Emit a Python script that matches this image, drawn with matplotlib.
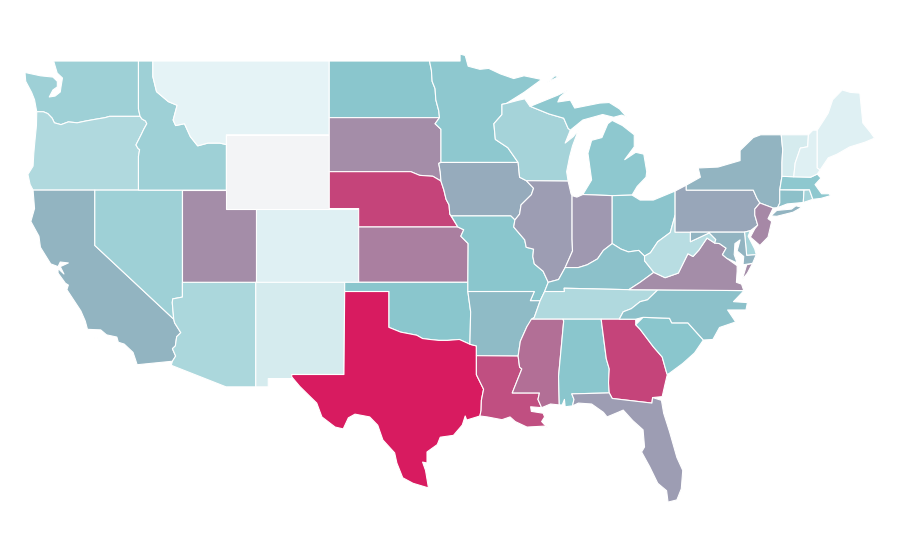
from matplotlib import pyplot as plt
from matplotlib.colors import LinearSegmentedColormap, Normalize

STATES = ['WA', 'OR', 'CA', 'NV', 'ID', 'MT', 'WY', 'UT', 'AZ', 'CO', 'NM', 'ND', 'SD', 'NE', 'KS', 'OK', 'TX',
          'MN', 'IA', 'MO', 'AR', 'LA', 'WI', 'IL', 'MI', 'IN', 'OH', 'KY', 'TN', 'MS', 'AL', 'GA', 'FL', 'SC',
          'NC', 'VA', 'WV', 'PA', 'NY', 'NJ', 'DE', 'MD', 'CT', 'RI', 'MA', 'VT', 'NH', 'ME']
VALUES = [20, 16, 33, 20, 20, 3, 0, 50, 17, 4.5, 7, 25, 50, 82, 56, 25, 100,
          24, 37, 25, 30, 77, 18.5, 43, 24, 45, 26, 27, 16, 63, 25, 82, 43, 25,
          27, 50, 14, 39, 33, 52, 18.5, 33, 27.5, 18.5, 24, 7, 4.5, 4.5]

# state outlines, lon/lat
OUTLINES = {
    'WA': [[(-117.03, 49), (-122.8, 49), (-122.56, 48.35), (-122.2, 48.08), (-122.3, 47.6), (-122.35, 47.32),
            (-122.7, 47.1), (-123.1, 47.05), (-122.85, 47.43), (-122.55, 47.6), (-122.55, 47.9), (-122.85, 48.13),
            (-123.7, 48.2), (-124.75, 48.38), (-124.7, 47.9), (-124.3, 47.3), (-124.1, 46.9),
            (-123.95, 46.25), (-123.5, 46.25), (-123.2, 46.15), (-122.9, 45.9), (-122.75, 45.65), (-122.3, 45.55),
            (-121.8, 45.7), (-121.2, 45.65), (-120.6, 45.75), (-119.9, 45.85), (-119.3, 45.93), (-119, 46),
            (-116.92, 46), (-117.03, 46.4)]],
    'OR': [[(-123.95, 46.25), (-123.5, 46.25), (-123.2, 46.15), (-122.9, 45.9), (-122.75, 45.65), (-122.3, 45.55),
            (-121.8, 45.7), (-121.2, 45.65), (-120.6, 45.75), (-119.9, 45.85), (-119.3, 45.93), (-119, 46),
            (-116.92, 46), (-116.78, 45.85), (-116.55, 45.75), (-116.46, 45.6), (-116.67, 45.3), (-116.85, 45),
            (-117.2, 44.45), (-117.05, 44.25), (-116.95, 44.2), (-117.03, 43.83), (-117.03, 42), (-124.2, 42),
            (-124.4, 42.3), (-124.55, 42.85), (-124.2, 43.3), (-124.15, 44), (-124.07, 44.7), (-123.97, 45.5)]],
    'CA': [[(-124.2, 42), (-120, 42), (-120, 39), (-114.63, 35), (-114.57, 34.8), (-114.15, 34.27), (-114.43, 34.05),
            (-114.52, 33.55), (-114.72, 33.4), (-114.5, 33), (-114.72, 32.72), (-117.12, 32.53), (-117.25, 32.85),
            (-117.4, 33.2), (-118, 33.65), (-118.4, 33.75), (-118.5, 34.03), (-119.2, 34.15), (-119.6, 34.42),
            (-120.5, 34.45), (-120.65, 34.9), (-120.95, 35.45), (-121.9, 36.6), (-121.8, 36.85), (-122, 36.95),
            (-122.5, 37.5), (-122.5, 37.75), (-122.1, 37.45), (-122.35, 37.85), (-121.8, 38.05), (-122.35, 38.1),
            (-122.5, 37.85), (-123, 38), (-123.7, 38.9), (-123.8, 39.5), (-124.35, 40.3), (-124.1, 41)],
           [(-120.05, 33.98), (-119.85, 33.98), (-119.85, 34.05), (-120.05, 34.05)]],
    'NV': [[(-120, 42), (-114.04, 42), (-114.04, 36.2), (-114.7, 36.1), (-114.73, 35.9), (-114.63, 35), (-120, 39)]],
    'ID': [[(-117.03, 49), (-116.05, 49), (-116.05, 48.15), (-115.8, 47.34), (-115, 46.8), (-114.4, 46.6),
            (-114.67, 45.8), (-114.5, 45.5), (-113.9, 45.6), (-113.5, 44.9), (-113, 44.4), (-112.3, 44.55),
            (-111.5, 44.55), (-111.05, 44.47), (-111.05, 42), (-117.03, 42), (-117.03, 43.83), (-116.95, 44.2),
            (-117.05, 44.25), (-117.2, 44.45), (-116.85, 45), (-116.67, 45.3), (-116.46, 45.6), (-116.55, 45.75),
            (-116.78, 45.85), (-116.92, 46), (-117.03, 46.4)]],
    'MT': [[(-116.05, 49), (-104.05, 49), (-104.05, 45), (-111.05, 45), (-111.05, 44.47), (-111.5, 44.55),
            (-112.3, 44.55), (-113, 44.4), (-113.5, 44.9), (-113.9, 45.6), (-114.5, 45.5), (-114.67, 45.8),
            (-114.4, 46.6), (-115, 46.8), (-115.8, 47.34), (-116.05, 48.15)]],
    'WY': [[(-111.05, 45), (-104.05, 45), (-104.05, 41), (-111.05, 41)]],
    'UT': [[(-114.04, 42), (-111.05, 42), (-111.05, 41), (-109.05, 41), (-109.05, 37), (-114.04, 37)]],
    'AZ': [[(-114.04, 37), (-109.05, 37), (-109.05, 31.33), (-111.07, 31.33), (-114.8, 32.5), (-114.72, 32.72),
            (-114.5, 33), (-114.72, 33.4), (-114.52, 33.55), (-114.43, 34.05), (-114.15, 34.27), (-114.57, 34.8),
            (-114.63, 35), (-114.73, 35.9), (-114.7, 36.1), (-114.04, 36.2)]],
    'CO': [[(-109.05, 41), (-102.05, 41), (-102.05, 37), (-109.05, 37)]],
    'NM': [[(-109.05, 37), (-103, 37), (-103.05, 32), (-106.6, 32), (-106.53, 31.78), (-108.2, 31.78), (-108.2, 31.33),
            (-109.05, 31.33)]],
    'ND': [[(-104.05, 49), (-97.23, 49), (-97.1, 48.5), (-97.05, 47.9), (-96.85, 47.5), (-96.8, 46.9), (-96.6, 46.3),
            (-96.55, 45.93), (-104.05, 45.93)]],
    'SD': [[(-104.05, 45.93), (-96.55, 45.93), (-96.85, 45.6), (-96.45, 45.3), (-96.45, 43.5), (-96.6, 43.45),
            (-96.5, 43), (-96.45, 42.49), (-97, 42.75), (-97.9, 42.8), (-98.5, 43), (-104.05, 43)]],
    'NE': [[(-104.05, 43), (-98.5, 43), (-97.9, 42.8), (-97, 42.75), (-96.45, 42.49), (-96.25, 42), (-96.1, 41.5),
            (-95.9, 41.2), (-95.85, 40.7), (-95.3, 40), (-102.05, 40), (-102.05, 41), (-104.05, 41)]],
    'KS': [[(-102.05, 40), (-95.3, 40), (-94.9, 39.85), (-95.1, 39.5), (-94.6, 39.1), (-94.62, 37), (-102.05, 37)]],
    'OK': [[(-103, 37), (-94.62, 37), (-94.62, 36.5), (-94.43, 35.4), (-94.48, 33.64), (-95.2, 33.9), (-96, 33.85),
            (-96.6, 33.85), (-97.2, 33.9), (-97.7, 33.95), (-98.1, 34.13), (-99.2, 34.3), (-100, 34.56), (-100, 36.5),
            (-103, 36.5)]],
    'TX': [[(-103, 36.5), (-100, 36.5), (-100, 34.56), (-99.2, 34.3), (-98.1, 34.13), (-97.7, 33.95), (-97.2, 33.9),
            (-96.6, 33.85), (-96, 33.85), (-95.2, 33.9), (-94.48, 33.64), (-94.04, 33.55), (-94.04, 31.99),
            (-93.55, 31.2), (-93.7, 30.6), (-93.72, 30.05), (-93.8, 29.75), (-94.7, 29.53), (-94.8, 29.75),
            (-95, 29.26), (-95.6, 28.7), (-96.5, 28.6), (-96.7, 28.2), (-97.4, 27.8), (-97.4, 27.2), (-97.7, 27.25),
            (-97.5, 26.8), (-97.3, 25.85), (-98.35, 26.1), (-99.05, 26.4), (-99.45, 27.2), (-99.6, 27.75),
            (-100.4, 28.45), (-100.75, 29.25), (-101.3, 29.7), (-102.3, 29.85), (-102.75, 29.65), (-103.1, 29.05),
            (-103.65, 29.15), (-104.55, 29.7), (-104.9, 30.45), (-105.35, 30.8), (-106.05, 31.35), (-106.6, 31.87),
            (-106.6, 32), (-103.05, 32)]],
    'MN': [[(-97.23, 49), (-95.15, 49), (-95.15, 49.38), (-94.8, 49.3), (-94.6, 48.72), (-93.8, 48.55), (-93.2, 48.6),
            (-92.4, 48.3), (-91.5, 48.05), (-90.8, 48.2), (-89.6, 48), (-90.8, 47.3), (-92, 46.7), (-92.3, 46.65),
            (-92.3, 46.1), (-92.85, 45.6), (-92.75, 44.75), (-91.9, 44.3), (-91.2, 43.5), (-96.45, 43.5),
            (-96.45, 45.3), (-96.85, 45.6), (-96.55, 45.93), (-96.6, 46.3), (-96.8, 46.9), (-96.85, 47.5),
            (-97.05, 47.9), (-97.1, 48.5)]],
    'IA': [[(-96.45, 43.5), (-91.2, 43.5), (-91.1, 42.7), (-90.64, 42.51), (-90.15, 42.1), (-90.3, 41.75), (-91, 41.2),
            (-91.1, 40.7), (-91.42, 40.38), (-91.7, 40.6), (-95.75, 40.6), (-95.85, 40.7), (-95.9, 41.2), (-96.1, 41.5),
            (-96.25, 42), (-96.45, 42.49), (-96.5, 43), (-96.6, 43.45)]],
    'MO': [[(-95.75, 40.6), (-91.7, 40.6), (-91.42, 40.38), (-91.5, 40), (-90.75, 39.3), (-90.65, 38.9), (-90.15, 38.8),
            (-90.2, 38.4), (-90.1, 38), (-89.5, 37.6), (-89.15, 37), (-89.4, 36.5), (-89.7, 36), (-90.37, 36),
            (-90.1, 36.5), (-94.62, 36.5), (-94.62, 37), (-94.6, 39.1), (-95.1, 39.5), (-94.9, 39.85), (-95.3, 40)]],
    'AR': [[(-94.62, 36.5), (-90.1, 36.5), (-90.37, 36), (-89.7, 36), (-90.1, 35.1), (-90.6, 34.6), (-91.05, 33.8),
            (-91.2, 33), (-94.04, 33.02), (-94.04, 33.55), (-94.48, 33.64), (-94.43, 35.4)]],
    'LA': [[(-94.04, 33.02), (-91.2, 33), (-91.1, 32.4), (-90.95, 32.3), (-91.6, 31), (-89.75, 31), (-89.85, 30.65),
            (-89.6, 30.2), (-90.35, 30.25), (-90.3, 30), (-89.5, 29.9), (-89.4, 29.7), (-89.6, 29.45),
            (-89.2, 29.1), (-89.45, 29.2), (-90.6, 29.15), (-91.4, 29.45), (-91.75, 29.7), (-92.3, 29.55),
            (-93.3, 29.7), (-93.8, 29.75), (-93.72, 30.05), (-93.7, 30.6), (-93.55, 31.2), (-94.04, 31.99)]],
    'WI': [[(-92.3, 46.65), (-92, 46.7), (-91.2, 46.87), (-90.75, 46.95), (-90.4, 46.55), (-89.1, 46.13), (-88.1, 45.9),
            (-87.8, 45.35), (-87.65, 45.25), (-88, 44.55), (-87.45, 44.9), (-87.1, 45.25), (-87.5, 44.4), (-87.7, 43.8),
            (-87.9, 43), (-87.8, 42.49), (-90.64, 42.51), (-91.1, 42.7), (-91.2, 43.5), (-91.9, 44.3), (-92.75, 44.75),
            (-92.85, 45.6), (-92.3, 46.1)]],
    'IL': [[(-90.64, 42.51), (-87.8, 42.49), (-87.6, 41.8), (-87.53, 41.7), (-87.53, 39.35), (-87.5, 38.7), (-88, 37.8),
            (-88.45, 37.15), (-89.15, 37), (-89.5, 37.6), (-90.1, 38), (-90.2, 38.4), (-90.15, 38.8), (-90.65, 38.9),
            (-90.75, 39.3), (-91.5, 40), (-91.42, 40.38), (-91.1, 40.7), (-91, 41.2), (-90.3, 41.75), (-90.15, 42.1)]],
    'MI': [[(-86.8, 41.76), (-84.8, 41.7), (-83.45, 41.73), (-83.1, 42.2), (-82.5, 42.7), (-82.45, 43), (-82.65, 43.95),
            (-83.2, 44.05), (-83.95, 43.65), (-83.3, 44.35), (-83.3, 45), (-84.1, 45.5), (-84.8, 45.78), (-85.1, 45.6),
            (-85.5, 44.85), (-86.2, 44.7), (-86.45, 44), (-86.2, 42.55)],
           [(-90.4, 46.55), (-89.1, 46.13), (-88.1, 45.9), (-87.8, 45.35), (-87.65, 45.25), (-86.8, 45.8), (-85.45, 46.1),
            (-84.7, 45.95), (-84.15, 46.07), (-83.8, 45.95), (-84.3, 46.4), (-85, 46.75), (-85.65, 46.72), (-87.35, 46.45),
            (-87.65, 46.88), (-88.5, 46.78), (-88.35, 47.05), (-87.8, 47.43), (-88.5, 47.15), (-90.2, 46.6)],
           [(-89.2, 47.85), (-88.45, 48.15), (-88.7, 48.2)]],
    'IN': [[(-87.53, 41.7), (-87.2, 41.62), (-86.8, 41.76), (-84.8, 41.7), (-84.8, 39.1), (-85.4, 38.73), (-85.8, 38.27),
            (-86.5, 37.95), (-87.1, 37.8), (-88, 37.8), (-87.5, 38.7), (-87.53, 39.35)]],
    'OH': [[(-84.8, 41.7), (-83.45, 41.73), (-82.9, 41.46), (-82, 41.46), (-80.52, 41.95), (-80.52, 40.64), (-80.85, 39.7),
            (-81.7, 39.2), (-82.2, 38.6), (-82.6, 38.42), (-83, 38.73), (-83.7, 38.65), (-84.2, 38.8), (-84.8, 39.1)]],
    'KY': [[(-89.4, 36.5), (-88.05, 36.5), (-88.07, 36.68), (-83.67, 36.6), (-82.9, 37), (-81.97, 37.54), (-82.6, 38.17),
            (-82.6, 38.42), (-83, 38.73), (-83.7, 38.65), (-84.2, 38.8), (-84.8, 39.1), (-85.4, 38.73), (-85.8, 38.27),
            (-86.5, 37.95), (-87.1, 37.8), (-88, 37.8), (-88.45, 37.15), (-89.15, 37)]],
    'TN': [[(-90.3, 35), (-88.15, 35), (-85.55, 35), (-84.32, 35), (-84.05, 35.4), (-83.5, 35.57), (-82.9, 35.95),
            (-82.4, 36.05), (-81.7, 36.59), (-83.67, 36.6), (-88.07, 36.68), (-88.05, 36.5), (-89.4, 36.5), (-89.7, 36),
            (-90.1, 35.1)]],
    'MS': [[(-91.6, 31), (-90.95, 32.3), (-91.1, 32.4), (-91.2, 33), (-91.05, 33.8), (-90.6, 34.6), (-90.3, 35),
            (-88.15, 35), (-88.1, 34.9), (-88.45, 31.9), (-88.4, 30.35), (-89, 30.4), (-89.6, 30.2), (-89.85, 30.65),
            (-89.75, 31)]],
    'AL': [[(-88.15, 35), (-85.55, 35), (-85.2, 32.85), (-85, 32.3), (-85.05, 31.55), (-85, 31), (-87.55, 30.95), (-87.4, 30.65),
            (-87.5, 30.3), (-88, 30.25), (-88.05, 30.65), (-88.2, 30.35), (-88.4, 30.35), (-88.45, 31.9), (-88.1, 34.9)]],
    'GA': [[(-85.55, 35), (-83.2, 35), (-83.2, 34.7), (-82.9, 34.45), (-82, 33.5), (-81.4, 32.95), (-81.1, 32.1),
            (-81.05, 32), (-81.2, 31.5), (-81.4, 30.8), (-82.05, 30.75), (-82.1, 30.45), (-84.8, 30.7), (-85, 31),
            (-85.05, 31.55), (-85, 32.3), (-85.2, 32.85)]],
    'FL': [[(-87.55, 30.95), (-85, 31), (-84.8, 30.7), (-82.1, 30.45), (-82.05, 30.75), (-81.45, 30.6), (-81.3, 29.9),
            (-80.9, 28.9), (-80.4, 27.5), (-80, 26.8), (-80.1, 25.8), (-80.4, 25.2), (-81, 25.08), (-81.1, 25.7),
            (-81.7, 26.1), (-82.25, 27), (-82.8, 27.8), (-82.6, 28.07), (-82.7, 29), (-83.4, 29.5), (-84.05, 30.07),
            (-84.4, 29.95), (-85.15, 29.7), (-85.4, 29.95), (-86.2, 30.4), (-87.1, 30.45), (-87.5, 30.3), (-87.4, 30.65)]],
    'SC': [[(-83.2, 34.7), (-82.7, 35.1), (-80.9, 35.05), (-80.75, 34.8), (-79.65, 34.8), (-78.6, 33.87),
            (-79.2, 33.17), (-80, 32.6), (-80.9, 32.07), (-81.05, 32), (-81.1, 32.1), (-81.4, 32.95), (-82, 33.5),
            (-82.9, 34.45)]],
    'NC': [[(-84.32, 35), (-84.05, 35.4), (-83.5, 35.57), (-82.9, 35.95), (-82.4, 36.05), (-81.7, 36.59), (-75.85, 36.55),
            (-75.95, 36.45), (-76.55, 35.95), (-75.6, 35.9), (-75.7, 35.5), (-76.95, 35.5), (-76.4, 34.85), (-77.5, 34.55),
            (-77.95, 33.9), (-78.6, 33.87), (-79.65, 34.8), (-80.75, 34.8), (-80.9, 35.05), (-82.7, 35.1), (-83.2, 35)]],
    'VA': [[(-83.67, 36.6), (-81.7, 36.59), (-75.85, 36.55), (-76, 36.9), (-76.35, 37), (-76.3, 37.6), (-76.3, 37.9),
            (-77, 38.3), (-77.3, 38.5), (-77.05, 38.85), (-77.5, 39.1), (-77.83, 39.13), (-78.35, 39.4), (-78.9, 38.75),
            (-79.3, 38.4), (-79.65, 38.55), (-80.3, 37.5), (-81.2, 37.25), (-81.97, 37.54), (-82.9, 37)],
           [(-75.95, 37.15), (-75.65, 37.95), (-75.25, 38.03), (-75.6, 37.5)]],
    'WV': [[(-82.6, 38.17), (-81.97, 37.54), (-81.2, 37.25), (-80.3, 37.5), (-79.65, 38.55), (-79.3, 38.4), (-78.9, 38.75),
            (-78.35, 39.4), (-77.83, 39.13), (-77.75, 39.32), (-78.2, 39.68), (-79.48, 39.2), (-79.48, 39.72),
            (-80.52, 39.72), (-80.52, 40.64), (-80.85, 39.7), (-81.7, 39.2), (-82.2, 38.6), (-82.6, 38.42)]],
    'PA': [[(-80.52, 41.95), (-79.76, 42.27), (-79.76, 42), (-75.2, 42), (-74.95, 41.55), (-74.75, 41.3), (-75.1, 40.97),
            (-75.1, 40.65), (-74.9, 40.1), (-75.4, 39.8), (-75.8, 39.72), (-80.52, 39.72)]],
    'NY': [[(-79.76, 42.27), (-78.8, 42.7), (-78.95, 43.2), (-77.6, 43.25), (-76.1, 43.6), (-76.1, 44.15), (-75.2, 44.85),
            (-74.7, 45), (-73.3, 45), (-73.2, 44.2), (-73.25, 43.5), (-73.25, 42.75), (-73.4, 42.02), (-73.4, 41.3),
            (-73.55, 41.05), (-73.85, 41.03), (-74.75, 41.3), (-74.95, 41.55), (-75.2, 42), (-79.76, 42)],
           [(-74, 40.6), (-73.6, 40.9), (-72.6, 40.97), (-72.3, 41.15), (-71.9, 41.07), (-72.5, 40.8), (-73.6, 40.58)]],
    'NJ': [[(-74.75, 41.3), (-73.85, 41.03), (-74.2, 40.45), (-73.95, 40.3), (-74.2, 39.45), (-74.75, 39), (-75.4, 39.45),
            (-75.1, 39.9), (-74.9, 40.1), (-75.1, 40.65), (-75.1, 40.97)]],
    'DE': [[(-75.8, 39.72), (-75.4, 39.8), (-75.55, 39.5), (-75.1, 38.8), (-75, 38.5), (-75.65, 38.46)]],
    'MD': [[(-79.48, 39.72), (-75.8, 39.72), (-75.65, 38.46), (-75, 38.5), (-75.25, 38.03), (-75.9, 37.95),
            (-75.85, 38.4), (-76.3, 38.7), (-76.1, 39.3), (-76.45, 39.1), (-76.5, 38.5), (-76.3, 38.05), (-77, 38.3),
            (-77.3, 38.5), (-77.05, 38.85), (-77.5, 39.1), (-77.83, 39.13), (-77.75, 39.32), (-78.2, 39.68),
            (-79.48, 39.2)]],
    'CT': [[(-73.4, 42.02), (-71.75, 42), (-71.8, 41.33), (-72.9, 41.25), (-73.55, 41.05), (-73.4, 41.3)]],
    'RI': [[(-71.75, 42), (-71.38, 42.02), (-71.15, 41.5), (-71.8, 41.33)]],
    'MA': [[(-73.4, 42.02), (-73.25, 42.75), (-71.3, 42.7), (-70.85, 42.87), (-70.6, 42.65), (-71, 42.3), (-70.55, 41.8),
            (-70.05, 41.8), (-70.2, 42.05), (-69.95, 41.7), (-70.6, 41.55), (-71.15, 41.5), (-71.38, 42.02)]],
    'VT': [[(-73.3, 45), (-71.45, 45), (-71.5, 44.35), (-72, 44.28), (-72.35, 43.47), (-72.45, 42.72), (-73.25, 42.75),
            (-73.25, 43.5), (-73.2, 44.2)]],
    'NH': [[(-71.45, 45), (-71.15, 45.25), (-70.85, 45.25), (-70.85, 43.2), (-70.65, 43.1), (-70.85, 42.87), (-71.3, 42.7),
            (-72.45, 42.72), (-72.35, 43.47), (-72, 44.28), (-71.5, 44.35)]],
    'ME': [[(-70.85, 45.25), (-70.4, 45.8), (-70.1, 46.18), (-69.8, 46.9), (-69.15, 47.43), (-68.6, 47.3), (-67.95, 47.26),
            (-67.75, 45.64), (-67.25, 45.15), (-66.95, 44.82), (-67.6, 44.6), (-68.65, 44.34), (-69.5, 43.95),
            (-70.1, 43.75), (-70.65, 43.1), (-70.85, 43.2)]],
}

cmap = LinearSegmentedColormap.from_list('states', [(0, '#f3f4f6'), (0.02, '#e8f5f7'), (0.25, '#8ac6cd'), (1, '#d81b60')])
norm = Normalize(0, 100)

fig = plt.figure(figsize=(9, 5.6), dpi=100)
ax = fig.add_axes([0, 0, 1, 1])

for state, value in zip(STATES, VALUES):
    for ring in OUTLINES[state]:
        lons, lats = zip(*ring)
        ax.fill(lons, lats, facecolor=cmap(norm(value)), edgecolor='white', linewidth=0.8, joinstyle='round')

ax.set_xlim(-126.45, -65.22)
ax.set_ylim(21.94, 52.31)
ax.axis('off')

plt.savefig('out.png', dpi=100)
